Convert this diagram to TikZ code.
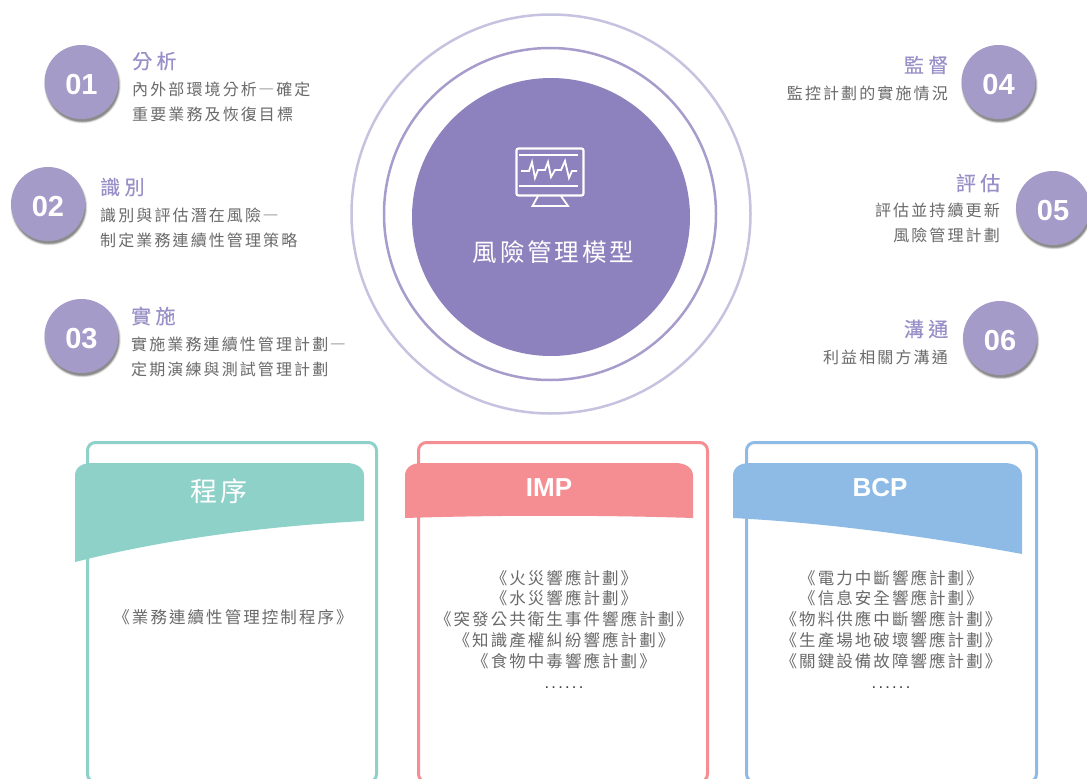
\documentclass[tikz,border=0pt]{standalone}
\usepackage{fontspec}
\setmainfont{Liberation Sans}
\newfontfamily\cjkbody[LetterSpace=13.2]{Noto Sans CJK TC}
\newfontfamily\cjkdash[RawFeature=+fwid]{Noto Sans CJK TC}
\newfontfamily\cjkpanel[LetterSpace=12.5]{Noto Sans CJK TC}
\newfontfamily\cjktitle[LetterSpace=22,FakeBold=0.4]{Noto Sans CJK TC}
\newfontfamily\cjkcentre[LetterSpace=11.5]{Noto Sans CJK TC}
\newfontfamily\cjkhead[LetterSpace=12]{Noto Sans CJK TC}
\newfontfamily\dotsfont[LetterSpace=13.5]{Liberation Sans}
\definecolor{disc}{HTML}{8D82BD}
\definecolor{ringa}{HTML}{C5C3E0}
\definecolor{ringb}{HTML}{A79CCB}
\definecolor{badge}{HTML}{A59BC9}
\definecolor{titlec}{HTML}{9A90C8}
\definecolor{bodyc}{HTML}{6A6A6A}
\definecolor{teal}{HTML}{8DD1C8}
\definecolor{rose}{HTML}{F58E92}
\definecolor{sky}{HTML}{8DBBE5}
\newcommand{\numlabel}[1]{\raisebox{-12.5pt}[10pt][10pt]{#1}}
\newcommand{\longdash}{{\kern1.5pt\cjkdash —\kern2pt}}
\tikzset{
  x=1pt,y=-1pt,
  badgeshadow/.pic={
    \foreach \r/\o in {38.5/.05,38/.08,37.5/.10,37/.14,36.5/.18}{\fill[black,opacity=\o] (1,3) circle[radius=\r pt];}
  },
  numtext/.style={circle,fill=badge,minimum size=74pt,inner sep=0pt,text=white,font=\fontsize{29}{30}\selectfont\bfseries},
  itemtitle/.style={inner sep=0pt,text=titlec,font=\cjktitle\fontsize{20}{22}\selectfont},
  itembody/.style={inner sep=0pt,text=bodyc,font=\cjkbody\fontsize{16}{25}\selectfont},
  paneltext/.style={inner sep=0pt,text=bodyc,align=center,font=\cjkpanel\fontsize{16.5}{20.8}\selectfont},
  frameline/.style={line width=3pt,rounded corners=8pt},
  headtext/.style={inner sep=0pt,text=white,font=\fontsize{26}{28}\selectfont\bfseries},
  iconline/.style={draw=white,line width=2.2pt,line join=miter}
}
\begin{document}
\begin{tikzpicture}
\useasboundingbox (0,0) rectangle (1087,779);
\fill[white] (0,0) rectangle (1087,779);
% rings and disc
\draw[ringa,line width=2.5pt] (551,214) circle[radius=199.5pt];
\draw[ringb,line width=2.5pt] (550,214) circle[radius=166pt];
\node[circle,fill=disc,minimum size=278pt,inner sep=0pt] (core) at (551,217) {};
% icon
\draw[iconline,rounded corners=2pt] (516.5,148.5) rectangle (583.5,195.5);
\draw[iconline] (519,155) -- (578,155);
\draw[iconline] (519,186) -- (578,186);
\draw[iconline,line width=1.8pt] (538,196) -- (532.5,206) -- (568,206) -- (561,196);
\draw[iconline,line width=1.8pt] (521,171) -- (529,171) -- (532,162) -- (535,178) -- (538,170) -- (545,170) -- (548,162) -- (551,177) -- (555,170) -- (561,170) -- (565,161) -- (569,178) -- (572,171) -- (577,171);
\node[inner sep=0pt,text=white,font=\cjkcentre\fontsize{24.5}{26}\selectfont] (coretext) at (553.5,252) {風險管理模型};
% badges
\pic at (81.5,82) {badgeshadow};
\pic at (48,204) {badgeshadow};
\pic at (81.5,336) {badgeshadow};
\pic at (998.5,82) {badgeshadow};
\pic at (1053,208) {badgeshadow};
\pic at (1000,338) {badgeshadow};
\node[numtext] (n1) at (81.5,82) {\numlabel{01}};
\node[numtext] (n2) at (48,204) {\numlabel{02}};
\node[numtext] (n3) at (81.5,336) {\numlabel{03}};
\node[numtext] (n4) at (998.5,82) {\numlabel{04}};
\node[numtext] (n5) at (1053,208) {\numlabel{05}};
\node[numtext] (n6) at (1000,338) {\numlabel{06}};
% left items
\node[itemtitle,anchor=west] (t1) at (132,61) {分析};
\node[itembody,anchor=west,align=left] (b1) at (132,101.5) {內外部環境分析\longdash 確定\\重要業務及恢復目標};
\node[itemtitle,anchor=west] (t2) at (100,187) {識別};
\node[itembody,anchor=west,align=left] (b2) at (100,227.5) {識別與評估潛在風險\longdash\\制定業務連續性管理策略};
\node[itemtitle,anchor=west] (t3) at (131,316) {實施};
\node[itembody,anchor=west,align=left] (b3) at (131,356.5) {實施業務連續性管理計劃\longdash\\定期演練與測試管理計劃};
% right items
\node[itemtitle,anchor=east] (t4) at (948.5,65) {監督};
\node[itembody,anchor=east] (b4) at (948,93) {監控計劃的實施情況};
\node[itemtitle,anchor=east] (t5) at (1000.5,183) {評估};
\node[itembody,anchor=east,align=right] (b5) at (1000,223) {評估並持續更新\\風險管理計劃};
\node[itemtitle,anchor=east] (t6) at (948.5,329) {溝通};
\node[itembody,anchor=east] (b6) at (948,357) {利益相關方溝通};
% panel 1
\draw[teal,frameline] (87.5,442.5) rectangle (376.5,782);
\fill[teal] (75,562) -- (75,476) .. controls (75,468) and (81,463) .. (92,463) -- (346,463) .. controls (357,463) and (364,468) .. (364,476) -- (364,521) .. controls (270,526) and (170,538) .. cycle;
\node[inner sep=0pt,text=white,font=\cjkhead\fontsize{27}{29}\selectfont] (h1) at (219,491.5) {程序};
\node[paneltext] (c1) at (233,617) {《業務連續性管理控制程序》};
% panel 2
\draw[rose,frameline] (418.5,442.5) rectangle (707.5,782);
\fill[rose] (405,518) -- (405,476) .. controls (405,468) and (411,463) .. (422,463) -- (675,463) .. controls (686,463) and (693,468) .. (693,476) -- (693,518) .. controls (600,515) and (500,515) .. cycle;
\node[headtext] (h2) at (549,488) {IMP};
\node[paneltext] (c2) at (564,629) {《火災響應計劃》\\《水災響應計劃》\\《突發公共衛生事件響應計劃》\\《知識產權糾紛響應計劃》\\《食物中毒響應計劃》\\{\color{black!75}\dotsfont ......}};
% panel 3
\draw[sky,frameline] (746.5,442.5) rectangle (1036.5,782);
\fill[sky] (733,518) -- (733,476) .. controls (733,468) and (739,463) .. (750,463) -- (1004,463) .. controls (1015,463) and (1022,468) .. (1022,476) -- (1022,554) .. controls (930,537) and (830,523) .. cycle;
\node[headtext] (h3) at (880,488) {BCP};
\node[paneltext] (c3) at (891,629) {《電力中斷響應計劃》\\《信息安全響應計劃》\\《物料供應中斷響應計劃》\\《生產場地破壞響應計劃》\\《關鍵設備故障響應計劃》\\{\color{black!75}\dotsfont ......}};
\end{tikzpicture}
\end{document}
